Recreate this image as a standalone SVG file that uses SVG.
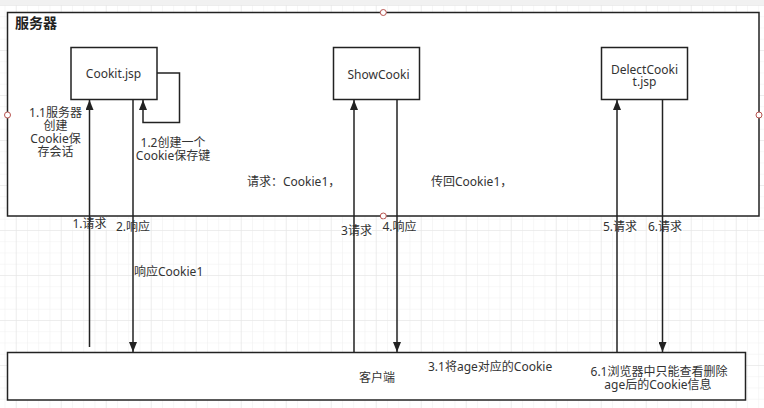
<svg xmlns="http://www.w3.org/2000/svg" width="764" height="408" viewBox="0 0 764 408">
<style>
.t{font-family:"Noto Sans","Noto Sans CJK SC",sans-serif;font-size:12px;fill:#333}
.c{text-anchor:middle}
.b{fill:#fff;stroke:#222;stroke-width:1.5}
.l{fill:none;stroke:#222;stroke-width:1.5}
.bg{fill:#fff}
.pt{fill:#fff;stroke:#b85450;stroke-width:1}
</style>
<defs>
<pattern id="minor" x="4.5" y="5" width="11.25" height="11.25" patternUnits="userSpaceOnUse">
<path d="M0,0 H11.25 M0,0 V11.25" fill="none" stroke="#efefef" stroke-width="1"/>
</pattern>
<pattern id="major" x="15.75" y="5" width="45" height="45" patternUnits="userSpaceOnUse">
<path d="M0,0 H45 M0,0 V45" fill="none" stroke="#e3e3e3" stroke-width="1"/>
</pattern>
<marker id="arr" viewBox="0 0 10 8" refX="10" refY="4" markerWidth="10" markerHeight="8" markerUnits="userSpaceOnUse" orient="auto">
<path d="M0,0 L10,4 L0,8 z" fill="#222"/>
</marker>
</defs>
<rect width="764" height="408" fill="#fff"/>
<rect width="764" height="408" fill="url(#minor)"/>
<rect width="764" height="408" fill="url(#major)"/>
<rect width="764" height="5" fill="#f1f1f1"/>

<g id="server">
<rect class="b" x="7.5" y="12.5" width="751.5" height="203.5"/>
<text x="15" y="28" style="font-family:'Noto Sans CJK SC',sans-serif;font-size:14px;font-weight:bold;fill:#222">服务器</text>
<circle class="pt" cx="383.3" cy="12.5" r="3"/>
<circle class="pt" cx="383.3" cy="216" r="3"/>
<circle class="pt" cx="7.5" cy="115" r="3"/>
<circle class="pt" cx="759" cy="115" r="3"/>
</g>

<g id="client">
<rect class="b" x="7.5" y="352.5" width="738" height="47.5"/>
<text class="t c" x="377" y="382">客户端</text>
</g>

<g id="cookit">
<rect class="b" x="71" y="47.5" width="86" height="52"/>
<text class="t c" x="113.5" y="78">Cookit.jsp</text>
</g>

<g id="showcooki">
<rect class="b" x="333.5" y="47.5" width="86" height="52"/>
<text class="t c" x="378.5" y="79">ShowCooki</text>
</g>

<g id="delectcooki">
<rect class="b" x="601.5" y="47.5" width="86" height="52"/>
<text class="t c" x="644.5" y="73.5">DelectCooki</text>
<text class="t c" x="644.5" y="86">t.jsp</text>
</g>

<g id="label-bgs">
<rect class="bg" x="72.5" y="217.5" width="34" height="12.5"/>
<rect class="bg" x="116" y="219" width="34" height="14"/>
<rect class="bg" x="341" y="223.5" width="31" height="13"/>
<rect class="bg" x="383" y="219.5" width="34" height="13"/>
<rect class="bg" x="603.5" y="219.5" width="34" height="13"/>
<rect class="bg" x="647.5" y="219.5" width="35" height="13"/>
</g>

<g id="connectors">
<line class="l" x1="89.5" y1="347" x2="89.5" y2="100" marker-end="url(#arr)"/>
<line class="l" x1="133" y1="99.5" x2="133" y2="352" marker-end="url(#arr)"/>
<polyline class="l" points="157,73 179.5,73 179.5,122.5 143,122.5 143,100" marker-end="url(#arr)"/>
<line class="l" x1="354" y1="352" x2="354" y2="100" marker-end="url(#arr)"/>
<line class="l" x1="397" y1="99.5" x2="397" y2="352" marker-end="url(#arr)"/>
<line class="l" x1="617" y1="352" x2="617" y2="100" marker-end="url(#arr)"/>
<line class="l" x1="662.5" y1="99.5" x2="662.5" y2="352" marker-end="url(#arr)"/>
</g>

<g id="labels">
<text class="t c" x="89.5" y="228">1.请求</text>
<text class="t c" x="133" y="231">2.响应</text>
<text class="t" x="134" y="276">响应Cookie1</text>
<text class="t c" x="55.5" y="116.5">1.1服务器</text>
<text class="t c" x="55.5" y="129.5">创建</text>
<text class="t c" x="55.5" y="143">Cookie保</text>
<text class="t c" x="55.5" y="156">存会话</text>
<text class="t c" x="173" y="146.5">1.2创建一个</text>
<text class="t c" x="173" y="159.5">Cookie保存键</text>
<text class="t" x="247" y="186">请求：Cookie1，</text>
<text class="t" x="431" y="186">传回Cookie1，</text>
<text class="t c" x="356.5" y="235">3请求</text>
<text class="t c" x="399.5" y="231">4.响应</text>
<text class="t c" x="620" y="231">5.请求</text>
<text class="t c" x="665" y="231">6.请求</text>
<text class="t" x="428" y="370.5">3.1将age对应的Cookie</text>
<text class="t c" x="659" y="375.5">6.1浏览器中只能查看删除</text>
<text class="t c" x="658" y="388.5">age后的Cookie信息</text>
</g>
</svg>
